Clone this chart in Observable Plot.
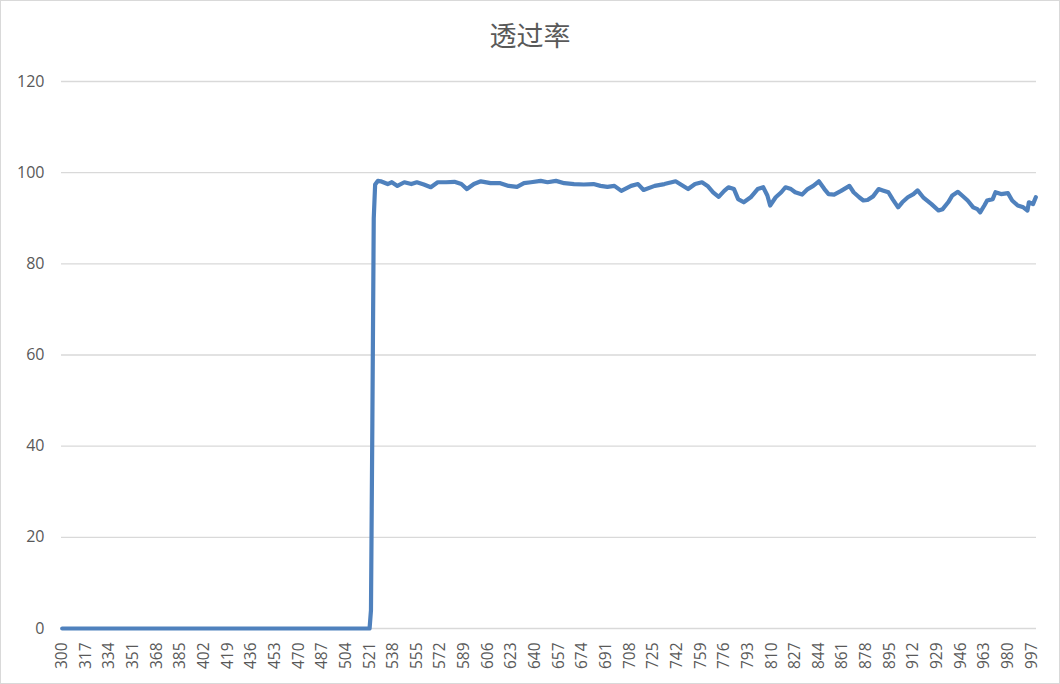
<!DOCTYPE html>
<html><head><meta charset="utf-8">
<script src="https://cdn.jsdelivr.net/npm/d3@7"></script>
<script src="https://cdn.jsdelivr.net/npm/@observablehq/plot@0.6"></script>
<style>
body{margin:0;background:#fff;}
#chart{width:1060px;height:684px;box-sizing:border-box;border:1px solid #d9d9d9;background:#fff;overflow:hidden;}
#title{height:59px;box-sizing:border-box;padding-top:9px;line-height:50px;text-align:center;font-family:"Noto Sans CJK SC";font-size:27px;color:#595959;}
svg{display:block;}
</style></head><body>
<div id="chart"><div id="title">透过率</div></div>
<script>
const wavelength = [300,334,368,402,436,470,504,521,522,523,524,525,527,529,534,537,541,546,551,555,560,565,570,576,582,587,591,596,601,608,615,621,627,632,637,644,649,655,661,668,675,682,687,692,697,702,709,714,718,726,733,741,750,755,760,764,768,772,776,779,783,786,790,795,800,804,807,809,813,817,820,824,827,832,836,840,844,848,851,855,860,866,869,873,876,879,883,887,890,894,897,901,904,908,912,915,919,925,930,933,937,940,944,947,951,955,958,960,963,965,969,971,975,980,983,987,991,994,995,998,1000];
const transmittance = [0,0,0,0,0,0,0,0,4,45,90,97.4,98.2,98.1,97.5,97.9,97.1,97.9,97.5,97.9,97.4,96.8,97.9,97.9,98.0,97.5,96.4,97.5,98.1,97.7,97.7,97.1,96.9,97.7,97.9,98.2,97.9,98.2,97.7,97.5,97.4,97.5,97.1,96.9,97.1,96.0,97.1,97.5,96.2,97.1,97.5,98.1,96.4,97.5,97.9,97.1,95.7,94.7,96.0,96.8,96.4,94.2,93.5,94.6,96.4,96.8,95.0,92.8,94.6,95.7,96.8,96.4,95.7,95.2,96.4,97.1,98.1,96.4,95.3,95.2,96.0,97.1,95.7,94.6,93.9,94.0,94.8,96.4,96.1,95.7,94.2,92.4,93.5,94.6,95.3,96.1,94.6,93.1,91.7,92.0,93.5,95.0,95.8,95.0,93.9,92.4,92.0,91.3,92.8,93.9,94.2,95.7,95.3,95.5,93.9,92.8,92.4,91.7,93.5,93.1,94.6];
const xTickLabels = [300,317,334,351,368,385,402,419,436,453,470,487,504,521,538,555,572,589,606,623,640,657,674,691,708,725,742,759,776,793,810,827,844,861,878,895,912,929,946,963,980,997];
const yTickLabels = [0,20,40,60,80,100,120];

const data = wavelength.map((w, i) => ({w, t: transmittance[i]}));

const plot = Plot.plot({
  width: 1058, height: 623,
  marginTop: 21, marginBottom: 55, marginLeft: 60, marginRight: 23,
  style: {fontFamily: "'Open Sans', sans-serif", fontSize: "15.5px", color: "#595959", background: "#fff"},
  x: {domain: [299.5, 1000.5]},
  y: {domain: [0, 120]},
  marks: [
    Plot.gridY(yTickLabels, {stroke: "#d9d9d9", strokeOpacity: 1, strokeWidth: 1.3}),
    Plot.axisY(yTickLabels, {tickSize: 0, tickPadding: 17, label: null, fontSize: 16, tickFormat: d => String(d)}),
    Plot.axisX(xTickLabels, {tickSize: 0, tickRotate: -90, tickPadding: 14, label: null, tickFormat: d => String(d)}),
    Plot.lineY(data, {x: "w", y: "t", stroke: "#4f81bd", strokeWidth: 4.2, strokeLinejoin: "round", strokeLinecap: "round"})
  ]
});
document.getElementById("chart").appendChild(plot);
</script>
</body></html>
